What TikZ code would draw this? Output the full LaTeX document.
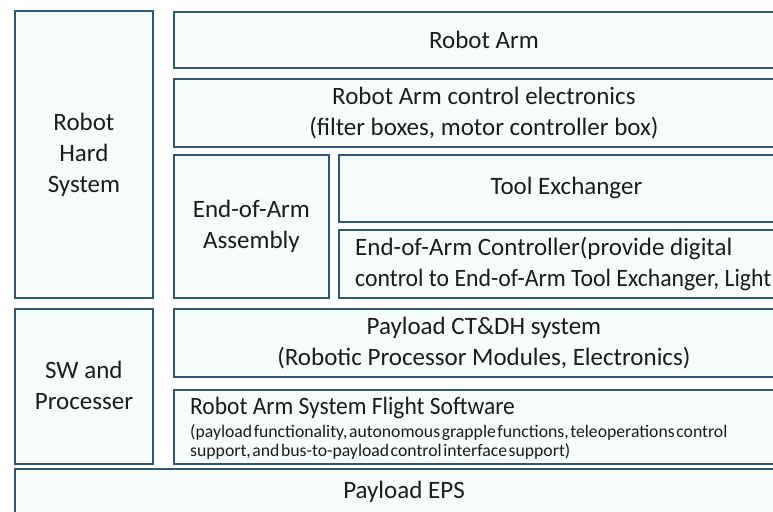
\documentclass[tikz,border=0pt]{standalone}
\usepackage{fontspec}
\setmainfont{Carlito}
\newfontfamily\notefont[WordSpace=0.4]{Carlito}
\definecolor{edge}{HTML}{31596B}
\definecolor{boxfill}{HTML}{F7FCFC}
\definecolor{ink}{HTML}{1C1C1C}
\begin{document}
\begin{tikzpicture}[x=1pt,y=-1pt,
  box/.style={draw=edge, line width=1.8pt, fill=boxfill, inner sep=0pt, anchor=north west},
  big/.style={font=\fontsize{25}{31}\selectfont, text=ink, align=center, inner sep=0pt},
  leftbig/.style={font=\fontsize{25}{31}\selectfont, text=ink, align=left, inner sep=0pt},
  small/.style={font=\notefont\fontsize{17.7}{19}\selectfont, text=ink, align=left, inner sep=0pt}]
\useasboundingbox (0,0) rectangle (773,511);
\clip (0,0) rectangle (773,511);
\fill[white] (0,0) rectangle (773,511);

% left column
\node[box, minimum width=138pt, minimum height=287pt] (hard) at (14,10) {};
\node[box, minimum width=138pt, minimum height=155pt] (swp) at (14,308) {};
% bottom bar
\node[box, minimum width=779pt, minimum height=52pt] (eps) at (14,468) {};
% right column
\node[box, minimum width=620pt, minimum height=56pt] (arm) at (173,11) {};
\node[box, minimum width=620pt, minimum height=68pt] (race) at (173,78) {};
\node[box, minimum width=155pt, minimum height=143pt] (eoa) at (173,154) {};
\node[box, minimum width=455pt, minimum height=67pt] (tool) at (338,154) {};
\node[box, minimum width=455pt, minimum height=68pt] (eoac) at (338,229) {};
\node[box, minimum width=620pt, minimum height=68pt] (ctdh) at (173,308) {};
\node[box, minimum width=620pt, minimum height=74pt] (fsw) at (173,389) {};

% labels
\node[big] (hardT) at (hard.center) {Robot\\Hard\\System};
\node[big] (swpT) at ([yshift=1pt]swp.center) {SW and\\Processer};
\node[big] (armT) at (arm.center) {Robot Arm};
\node[big] (raceT) at (race.center) {Robot Arm control electronics\\(filter boxes, motor controller box)};
\node[big] (eoaT) at (eoa.center) {End-of-Arm\\Assembly};
\node[big] (toolT) at (tool.center) {Tool Exchanger};
\node[leftbig, anchor=west] (eoacT) at (355,264) {End-of-Arm Controller(provide digital\\\scalebox{0.95}[1]{control to End-of-Arm Tool Exchanger, Light}};
\node[big] (ctdhT) at (ctdh.center) {Payload CT\&DH system\\(Robotic Processor Modules, Electronics)};
\node[leftbig, anchor=west] (fswT) at (190,408) {\scalebox{0.94}[1]{Robot Arm System Flight Software}};
\node[small, anchor=north west] (fswS) at (190,424) {(payload functionality, autonomous grapple functions, teleoperations control\\support, and bus-to-payload control interface support)};
\node[big] (epsT) at (404,492) {Payload EPS};
\end{tikzpicture}
\end{document}
